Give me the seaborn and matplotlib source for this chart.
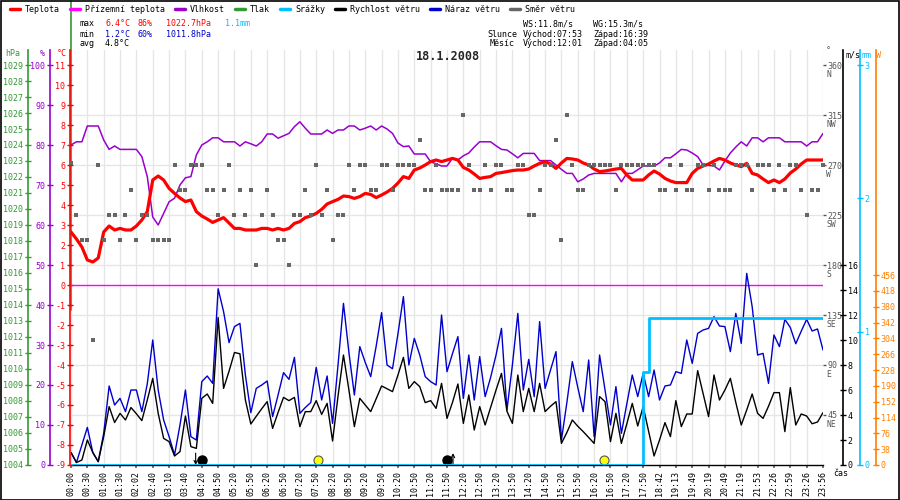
import numpy as np
import matplotlib
matplotlib.use("Agg")
import matplotlib.pyplot as plt
from matplotlib.lines import Line2D
from matplotlib.patches import Rectangle
import seaborn as sns

# --- data (one sample every 1/3 of a tick interval) ---
time_labels = ["00:00", "00:30", "01:00", "01:30", "02:02", "02:40", "03:10", "03:40",
               "04:20", "04:50", "05:20", "05:50", "06:20", "06:50", "07:20", "07:50",
               "08:20", "08:50", "09:20", "09:50", "10:20", "10:50", "11:20", "11:50",
               "12:20", "12:50", "13:20", "13:50", "14:20", "14:50", "15:20", "15:50",
               "16:20", "16:50", "17:20", "17:50", "18:42", "19:13", "19:49", "20:19",
               "20:49", "21:19", "21:53", "22:26", "22:59", "23:26", "23:56"]
samples_per_tick = 3

temperature = [2.65, 2.3, 1.9, 1.25, 1.15, 1.35, 2.65, 2.95, 2.75, 2.83,
               2.75, 2.75, 2.95, 3.25, 3.67, 5.25, 5.45, 5.25, 4.83, 4.58,
               4.35, 4.17, 4.25, 3.67, 3.45, 3.3, 3.13, 3.25, 3.37, 3.1,
               2.83, 2.83, 2.75, 2.75, 2.75, 2.83, 2.83, 2.75, 2.83, 2.75,
               2.83, 3.08, 3.17, 3.37, 3.45, 3.58, 3.78, 4.05, 4.17, 4.28,
               4.45, 4.42, 4.33, 4.42, 4.58, 4.53, 4.37, 4.5, 4.65, 4.83,
               5.1, 5.42, 5.33, 5.75, 5.85, 6.0, 6.17, 6.25, 6.17, 6.25,
               6.33, 6.25, 5.88, 5.75, 5.55, 5.33, 5.38, 5.42, 5.58, 5.62,
               5.67, 5.72, 5.75, 5.75, 5.8, 5.95, 6.08, 6.17, 6.05, 5.83,
               6.1, 6.33, 6.3, 6.25, 6.1, 6.0, 5.8, 5.67, 5.7, 5.75,
               5.8, 5.83, 5.5, 5.25, 5.25, 5.25, 5.5, 5.7, 5.55, 5.33,
               5.2, 5.12, 5.12, 5.12, 5.58, 5.83, 5.95, 6.05, 6.2, 6.33,
               6.25, 6.1, 6.0, 5.92, 6.08, 5.58, 5.5, 5.3, 5.12, 5.25,
               5.12, 5.3, 5.6, 5.8, 6.05, 6.25, 6.25, 6.25, 6.25]

humidity = [80, 80.8, 80.8, 84.75, 84.75, 84.75, 81.25, 78.9, 79.75, 78.9,
            78.9, 78.9, 78.9, 77.1, 72.1, 62, 60, 62.9, 65.8, 66.7,
            70, 71.8, 72.1, 77.5, 80, 80.8, 81.8, 81.8, 80.8, 80.8,
            80.8, 79.75, 80.8, 80.3, 79.75, 80.8, 82.75, 82.75, 81.7, 82.3,
            82.9, 84.6, 85.8, 84.2, 82.75, 82.75, 82.75, 83.75, 82.9, 83.75,
            83.75, 84.75, 84.75, 83.75, 84.2, 84.75, 83.75, 84.75, 84.0, 82.9,
            80.5, 79.6, 79.75, 77.75, 77.75, 77.75, 75.8, 75.3, 74.75, 74.75,
            76.7, 76.25, 77.3, 78.0, 79.5, 80.8, 80.8, 80.8, 79.8, 78.9,
            78.75, 77.8, 76.8, 77.9, 77.9, 77.9, 76.1, 76.1, 76.1, 75.0,
            73.9, 72.9, 72.9, 70.8, 71.5, 72.5, 72.9, 72.9, 72.9, 72.9,
            72.9, 70.8, 72.9, 72.9, 73.8, 74.75, 74.75, 74.75, 75.5, 76.8,
            76.8, 77.8, 78.9, 78.75, 78.0, 77.1, 75.0, 74.9, 74.75, 73.75,
            76.0, 78.0, 79.5, 80.8, 79.75, 81.8, 81.8, 80.8, 81.8, 81.8,
            81.8, 80.8, 80.8, 80.8, 80.8, 79.75, 80.8, 80.8, 82.9]

wind_speed = [1.0, 0.2, 0.4, 2.0, 1.0, 0.27, 2.27, 4.67, 3.4, 4.13,
              3.6, 4.6, 4.1, 3.55, 5.2, 6.93, 4.13, 2.13, 1.87, 0.72,
              1.07, 3.92, 1.47, 1.33, 5.33, 5.68, 4.93, 11.8, 6.13, 7.5,
              9.0, 8.9, 5.2, 3.28, 3.9, 4.5, 5.07, 2.93, 4.2, 5.41,
              5.15, 5.41, 3.07, 4.27, 4.27, 5.15, 4.05, 4.93, 1.92, 5.5,
              8.8, 6.0, 3.07, 5.33, 4.8, 4.27, 5.3, 6.32, 6.1, 5.87,
              7.2, 8.61, 6.13, 6.67, 6.27, 4.99, 5.15, 4.53, 6.53, 3.73,
              5.0, 6.48, 3.33, 5.6, 2.8, 4.67, 3.2, 4.6, 6.0, 7.33,
              4.3, 3.33, 7.2, 4.27, 6.13, 4.27, 6.53, 4.27, 4.7, 5.07,
              1.73, 2.6, 3.6, 3.1, 2.67, 2.2, 1.73, 5.47, 5.07, 1.87,
              4.13, 1.73, 3.3, 4.93, 3.12, 4.67, 2.7, 0.72, 2.0, 3.39,
              2.27, 5.15, 3.07, 4.08, 4.08, 7.55, 5.7, 3.87, 7.2, 5.2,
              6.0, 6.93, 5.0, 3.2, 4.4, 5.68, 4.13, 3.73, 4.7, 5.79,
              5.79, 2.67, 6.19, 3.2, 4.08, 3.92, 3.3, 3.44, 4.19]

wind_gust = [1.0, 0.2, 1.6, 3.01, 1.0, 0.27, 2.53, 6.32, 4.8, 5.33,
             4.27, 6.0, 6.0, 4.27, 6.5, 10.0, 6.0, 3.6, 2.27, 0.8,
             3.2, 6.0, 2.27, 2.0, 6.67, 7.12, 6.53, 14.1, 12.27, 9.79,
             11.07, 11.33, 7.2, 4.19, 6.13, 6.4, 6.72, 3.87, 5.6, 7.39,
             6.85, 8.61, 4.13, 4.6, 5.0, 7.81, 5.2, 7.12, 3.33, 8.0,
             12.93, 9.0, 5.6, 9.47, 8.2, 7.07, 9.5, 12.19, 8.0, 7.7,
             10.5, 13.47, 8.0, 10.13, 8.8, 7.07, 6.67, 6.4, 12.0, 7.47,
             8.9, 10.27, 5.33, 8.8, 5.2, 8.67, 5.47, 7.0, 8.8, 10.93,
             4.4, 8.0, 12.13, 6.0, 8.45, 5.47, 11.47, 6.13, 7.6, 9.07,
             2.0, 5.0, 8.27, 6.2, 4.27, 8.4, 2.27, 8.8, 6.0, 3.2,
             6.27, 2.53, 4.9, 7.2, 5.47, 7.33, 5.47, 7.6, 5.2, 6.32,
             6.4, 7.47, 7.33, 10.0, 8.13, 10.53, 10.8, 10.93, 11.87, 11.12,
             11.07, 9.07, 12.13, 9.73, 15.33, 12.67, 8.8, 8.93, 6.53, 10.4,
             9.47, 11.65, 11.0, 9.7, 10.7, 11.65, 10.72, 10.88, 9.2]

wind_dir = [272, 225, 202.5, 202.5, 112.5, 270, 202.5, 225, 225, 202.5,
            225, 247.5, 202.5, 225, 225, 202.5, 202.5, 202.5, 202.5, 270,
            247.5, 247.5, 270, 270, 270, 247.5, 247.5, 225, 247.5, 270,
            225, 247.5, 225, 247.5, 180, 225, 247.5, 225, 202.5, 202.5,
            180, 225, 225, 247.5, 225, 270, 225, 247.5, 202.5, 225,
            225, 270, 247.5, 270, 270, 247.5, 247.5, 270, 270, 247.5,
            270, 270, 270, 270, 292.5, 247.5, 247.5, 270, 247.5, 247.5,
            247.5, 247.5, 315, 270, 247.5, 247.5, 270, 247.5, 270, 270,
            247.5, 247.5, 270, 270, 225, 225, 247.5, 270, 270, 292.5,
            202.5, 315, 270, 247.5, 247.5, 270, 270, 270, 270, 270,
            247.5, 270, 270, 270, 270, 270, 270, 270, 247.5, 247.5,
            270, 247.5, 270, 247.5, 247.5, 270, 270, 247.5, 270, 247.5,
            247.5, 247.5, 270, 270, 270, 247.5, 270, 270, 270, 247.5,
            270, 247.5, 270, 270, 247.5, 225, 247.5, 247.5, 270]

rain_sample = [0, 104, 105, 106, 138]
rain_mm = [0.0, 0.0, 0.7, 1.1, 1.1]

ground_sample = [0, 138]
ground_temp = [0.0, 0.0]

pressure_sample = [0, 0]
pressure_hpa = [1013.7, 1033.0]

sunrise, sunset = "07:53", "16:39"
moonrise, moonset = "12:01", "04:05"

dir_ticks = [45, 90, 135, 180, 225, 270, 315, 360]
dir_names = ["NE", "E", "SE", "S", "SW", "W", "NW", "N"]

legend_items = ["Teplota", "Přízemní teplota", "Vlhkost", "Tlak", "Srážky",
                "Rychlost větru", "Náraz větru", "Směr větru"]

# --- style ---
sns.set_theme(style="ticks")
plt.rcParams["font.family"] = ["DejaVu Sans Mono", "DejaVu Sans"]
plt.rcParams["font.size"] = 6
plt.rcParams["axes.unicode_minus"] = False

RED = "#ff0000"
MAGENTA = "#ff00ff"
PURPLE = "#9900cc"
GREEN = "#339933"
CYAN = "#00bfff"
BLUE = "#0000cc"
GRAY = "#666666"
ORANGE = "#ff8000"
legend_colors = [RED, MAGENTA, PURPLE, GREEN, CYAN, "black", BLUE, GRAY]
legend_x = [10, 70, 175, 235, 280, 335, 430, 510]

W_PX, H_PX = 900, 500
X0, X1, Y_TOP, Y_BOT = 71, 823, 50, 465
PLOT_H = Y_BOT - Y_TOP

fig = plt.figure(figsize=(9, 5), dpi=100)
fig.patch.set_facecolor("white")
ax = fig.add_axes([X0 / W_PX, 1 - Y_BOT / H_PX, (X1 - X0) / W_PX, PLOT_H / H_PX])
n_ticks = len(time_labels)
ax.set_xlim(0, n_ticks - 1)
ax.set_ylim(0, PLOT_H * 360 / 400)


def twin(lo, px_per_unit):
    t = ax.twinx()
    t.set_ylim(lo, lo + PLOT_H / px_per_unit)
    for s in t.spines.values():
        s.set_visible(False)
    return t


def axes_x(px):
    return (px - X0) / (X1 - X0)


def style_axis(a, side, px, ticks, color):
    if side == "left":
        a.yaxis.tick_left()
    else:
        a.yaxis.tick_right()
    sp = a.spines[side]
    sp.set_visible(True)
    sp.set_position(("axes", axes_x(px)))
    sp.set_color(color)
    sp.set_linewidth(1.2)
    a.set_yticks(ticks)
    a.tick_params(axis="y", colors=color, direction="inout", length=4, width=1,
                  labelsize=6, pad=1.5)


ax_p = twin(1004, 16)
ax_h = twin(0, 4)
ax_t = twin(-9, 20)
ax_ws = twin(0, 12.5)
ax_mm = twin(0, 400 / 3)
ax_w = twin(0, 190 / 456)
ax_sq = twin(0, 400 / 360)

style_axis(ax_p, "left", 28, range(1004, 1030), GREEN)
style_axis(ax_h, "left", 50, range(0, 101, 10), PURPLE)
style_axis(ax_t, "left", 70, range(-9, 12), RED)
style_axis(ax_ws, "right", 843, range(0, 17, 2), "black")
style_axis(ax_mm, "right", 860, range(0, 4), CYAN)
style_axis(ax_w, "right", 876, range(0, 457, 38), ORANGE)
ax_sq.set_yticks([])

sample_x = np.arange(len(temperature)) / samples_per_tick

# --- series ---
ax_p.plot(pressure_sample, pressure_hpa, color=GREEN, lw=1.2, clip_on=False)
sns.lineplot(x=np.array(ground_sample) / samples_per_tick, y=ground_temp, ax=ax_t,
             color=MAGENTA, linewidth=1.0)
sns.lineplot(x=sample_x, y=humidity, ax=ax_h, color=PURPLE, linewidth=1.1, estimator=None)
sns.lineplot(x=sample_x, y=temperature, ax=ax_t, color=RED, linewidth=2.3, estimator=None)
sns.lineplot(x=sample_x, y=wind_gust, ax=ax_ws, color=BLUE, linewidth=1.0, estimator=None)
sns.lineplot(x=sample_x, y=wind_speed, ax=ax_ws, color="black", linewidth=1.0, estimator=None)
sns.lineplot(x=np.array(rain_sample) / samples_per_tick, y=rain_mm, ax=ax_mm, color=CYAN,
             linewidth=2.0, drawstyle="steps-post", estimator=None)
sns.scatterplot(x=sample_x, y=wind_dir, ax=ax_sq, marker="s", s=8, color=GRAY,
                linewidth=0, clip_on=False)

# sun / moon markers
def to_min(t):
    return int(t[:2]) * 60 + int(t[3:])


tick_minutes = [to_min(t) for t in time_labels]


def t_idx(t):
    return np.interp(to_min(t), tick_minutes, np.arange(n_ticks))


for ev in (sunrise, sunset):
    ax_ws.plot(t_idx(ev), 0.4, "o", ms=6.5, mfc="#ffff00", mec="#555555", mew=0.8,
               clip_on=False, zorder=5)
for ev, up, shift in ((moonset, False, 0.37), (moonrise, True, -0.37)):
    x = t_idx(ev)
    ax_ws.plot(x + shift, 0.4, "o", ms=6.5, mfc="black", mec="black", clip_on=False, zorder=5)
    a, b = (0.0, 0.95) if up else (0.95, 0.0)
    ax_ws.annotate("", xy=(x, b), xytext=(x, a),
                   arrowprops=dict(arrowstyle="->", color="black", lw=0.8,
                                   shrinkA=0, shrinkB=0))

# --- base axis: time ticks, grid, direction labels ---
ax.set_xlim(0, n_ticks - 1)
ax.set_xticks(range(n_ticks))
ax.set_xticklabels(time_labels, rotation=90)
ax.tick_params(axis="x", length=2.5, color=GRAY, labelsize=6, pad=1.5, colors="black")
ax.grid(True, axis="x", color="#e6e6e6", lw=1)
ax.yaxis.tick_right()
ax.yaxis.remove_overlapping_locs = False
ax.set_yticks(dir_ticks)
ax.set_yticklabels([str(d) for d in dir_ticks])
ax.set_yticks(dir_ticks[:-1], minor=True)
ax.grid(True, axis="y", which="minor", color="#e6e6e6", lw=1)
ax.tick_params(axis="y", which="major", colors="#555555", length=2, width=1, labelsize=6, pad=1)
ax.tick_params(axis="y", which="minor", length=0)
for sp in ("left", "top", "right"):
    ax.spines[sp].set_visible(False)
ax.spines["bottom"].set_color("black")
ax.spines["bottom"].set_linewidth(1.0)
for d, name in zip(dir_ticks, dir_names):
    ax.annotate(name, xy=(1, d), xycoords=("axes fraction", "data"), xytext=(2.2, -6.8),
                textcoords="offset points", va="center", ha="left", fontsize=5.8,
                color="#555555")


# --- header texts ---
def ftxt(xpx, ypx, s, color="black", **kw):
    fig.text(xpx / W_PX, 1 - ypx / H_PX, s, color=color, va="center", ha="left", **kw)


for lab, col, lx in zip(legend_items, legend_colors, legend_x):
    yy = 1 - 9 / H_PX
    fig.add_artist(Line2D([lx / W_PX, (lx + 10) / W_PX], [yy, yy], color=col, lw=2.5,
                          transform=fig.transFigure))
    ftxt(lx + 15, 9, lab)

ftxt(80, 24, "max")
ftxt(105, 24, "6.4°C", RED)
ftxt(138, 24, "86%", RED)
ftxt(166, 24, "1022.7hPa", RED)
ftxt(225, 24, "1.1mm", CYAN)
ftxt(80, 34, "min")
ftxt(105, 34, "1.2°C", BLUE)
ftxt(138, 34, "60%", BLUE)
ftxt(166, 34, "1011.8hPa", BLUE)
ftxt(80, 44, "avg")
ftxt(105, 44, "4.8°C")

ftxt(523, 24, "WS:11.8m/s")
ftxt(593, 24, "WG:15.3m/s")
ftxt(487, 34, "Slunce")
ftxt(523, 34, "Východ:" + sunrise)
ftxt(593, 34, "Západ:" + sunset)
ftxt(490, 44, "Měsíc")
ftxt(523, 44, "Východ:" + moonrise)
ftxt(593, 44, "Západ:" + moonset)

fig.text(448 / W_PX, 1 - 57 / H_PX, "18.1.2008", ha="center", va="center",
         fontsize=8.5, fontweight="bold")

ftxt(5, 54, "hPa", GREEN)
ftxt(40, 54, "%", PURPLE)
ftxt(57, 54, "°C", RED)
ftxt(826, 51, "°", "#555555")
ftxt(845, 55, "m/s")
ftxt(862, 55, "mm", CYAN)
ftxt(876, 55, "W", ORANGE)
ftxt(833, 473, "čas")

fig.add_artist(Rectangle((0.001, 0.001), 0.998, 0.998, transform=fig.transFigure,
                         fill=False, ec="black", lw=1.2))

fig.savefig("out.png", dpi=100)
